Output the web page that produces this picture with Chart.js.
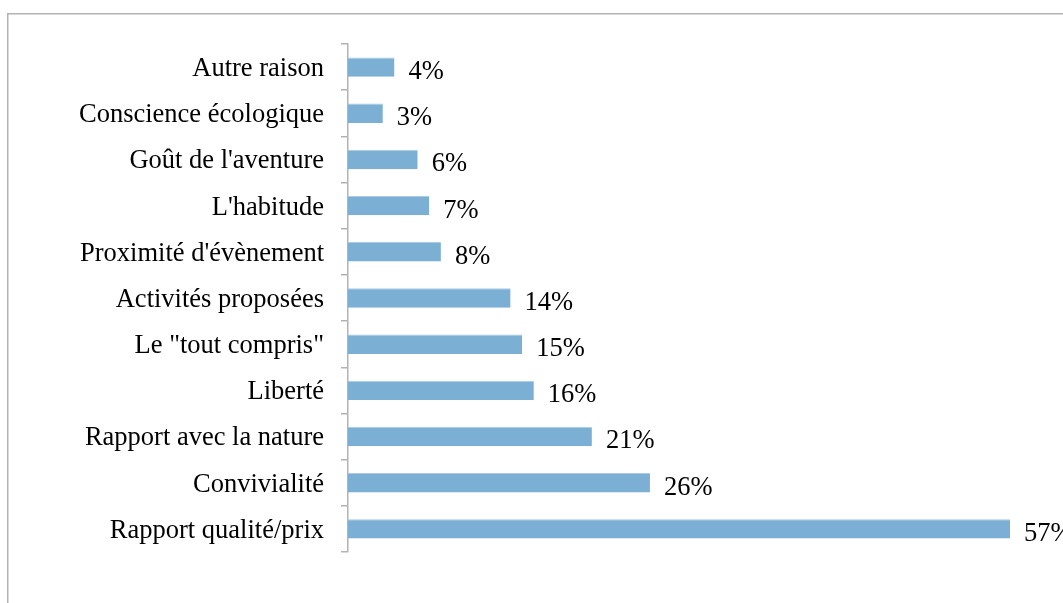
<!DOCTYPE html>
<html><head><meta charset="utf-8">
<script src="https://cdn.jsdelivr.net/npm/chart.js@4/dist/chart.umd.min.js"></script>
<style>html,body{margin:0;padding:0;background:#fff;overflow:hidden}#wrap{width:1063px;height:603px;position:relative}</style>
</head><body><div id="wrap"><canvas id="c" width="1063" height="603"></canvas></div>
<script>
const categories = ["Autre raison","Conscience écologique","Goût de l'aventure","L'habitude","Proximité d'évènement","Activités proposées","Le \"tout compris\"","Liberté","Rapport avec la nature","Convivialité","Rapport qualité/prix"];
const values = [4,3,6,7,8,14,15,16,21,26,57];
const valueLabels = ["4%","3%","6%","7%","8%","14%","15%","16%","21%","26%","57%"];

const FONT = "'Liberation Serif','Times New Roman',serif";

const framePlugin = {
  id:'frame',
  beforeDraw(chart){
    const ctx = chart.ctx;
    ctx.save();
    ctx.fillStyle = '#fff';
    ctx.fillRect(0,0,chart.width,chart.height);
    ctx.strokeStyle = '#B3B3B3';
    ctx.lineWidth = 1.5;
    ctx.strokeRect(7.75,13.75,1200,800);
    ctx.restore();
  }
};
const labelPlugin = {
  id:'vlabels',
  afterDatasetsDraw(chart){
    const ctx = chart.ctx;
    const meta = chart.getDatasetMeta(0);
    ctx.save();
    ctx.font = "26.5px " + FONT;
    ctx.fillStyle = '#000';
    ctx.textAlign = 'left';
    ctx.textBaseline = 'middle';
    meta.data.forEach((bar,i)=>{
      ctx.fillText(valueLabels[i], bar.x + 14, bar.y + 5);
    });
    ctx.restore();
  }
};

new Chart(document.getElementById('c'), {
  type:'bar',
  data:{labels:categories, datasets:[{data:values, backgroundColor:'#7BAFD4', borderColor:'#A9CBE6', borderWidth:{top:1,right:0,bottom:0,left:0}, categoryPercentage:1, barPercentage:0.42}]},
  options:{
    indexAxis:'y', responsive:false, animation:false,
    layout:{padding:{top:44,bottom:51,left:0,right:53}},
    plugins:{legend:{display:false},tooltip:{enabled:false}},
    scales:{
      x:{display:false,min:0,max:57},
      y:{
        afterFit(s){ s.width = 348; },
        grid:{drawOnChartArea:false, drawTicks:true, tickLength:7, color:'#B3B3B3', lineWidth:1.5, offset:true},
        border:{color:'#B3B3B3', width:1.5},
        ticks:{color:'#000', padding:17, labelOffset:2, font:{family:FONT, size:26.5}}
      }
    }
  },
  plugins:[framePlugin,labelPlugin]
});
</script></body></html>
